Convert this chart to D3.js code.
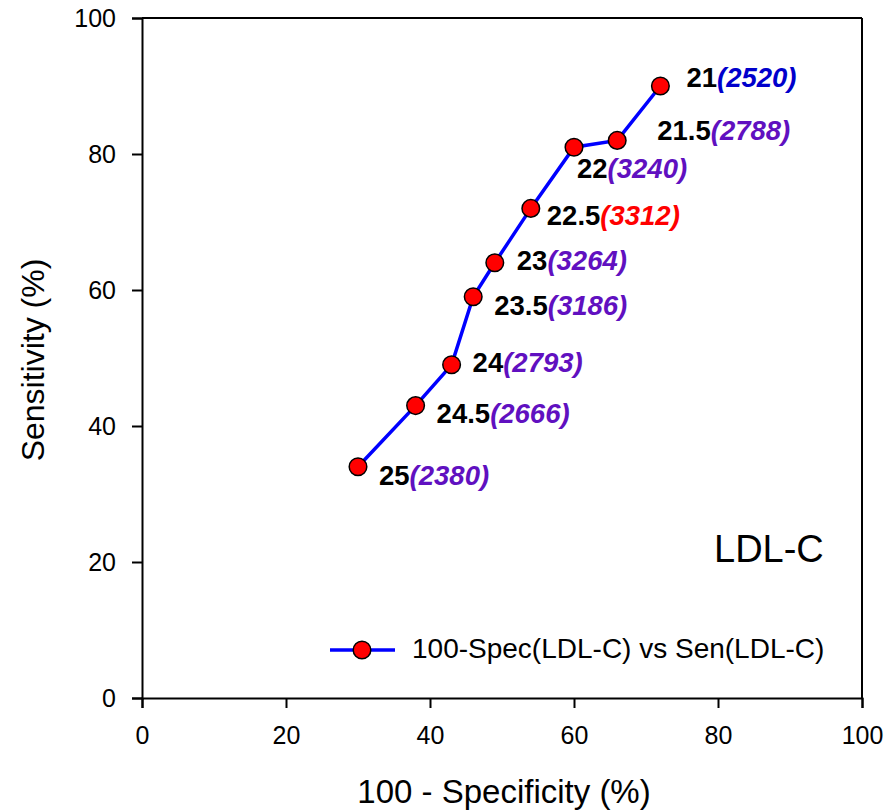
<!DOCTYPE html>
<html><head><meta charset="utf-8">
<script src="https://cdn.jsdelivr.net/npm/d3@7"></script>
<style>body{margin:0;background:#fff}text{font-family:"Liberation Sans",Arial,sans-serif}</style>
</head><body><svg id="c" width="890" height="811"></svg>
<script>
const specX = [30, 38, 43, 46, 49, 54, 60, 66, 72];
const sensY = [34, 43, 49, 59, 64, 72, 81, 82, 90];
const cutoffs = ["25", "24.5", "24", "23.5", "23", "22.5", "22", "21.5", "21"];
const counts = ["2380", "2666", "2793", "3186", "3264", "3312", "3240", "2788", "2520"];
const countColors = ["#6010C0", "#6010C0", "#6010C0", "#6010C0", "#6010C0", "#FF0000", "#6010C0", "#6010C0", "#0000CC"];
const labelOffsets = [[21,18],[21,17],[21,7],[21,18],[22,7],[16,17],[3,31],[40,0],[26,1]];
const xTicks = [0, 20, 40, 60, 80, 100];
const yTicks = [0, 20, 40, 60, 80, 100];

const svg = d3.select("#c");
const x = d3.scaleLinear().domain([0,100]).range([142,862]);
const y = d3.scaleLinear().domain([0,100]).range([698,18]);

// frame
svg.append("line").attr("x1",142).attr("x2",862).attr("y1",18).attr("y2",18).attr("stroke","#000").attr("stroke-width",2);
svg.append("line").attr("x1",862).attr("x2",862).attr("y1",18).attr("y2",698).attr("stroke","#000").attr("stroke-width",2);

const xa = svg.append("g").attr("transform","translate(0,698)")
  .call(d3.axisBottom(x).tickValues(xTicks).tickSize(10).tickPadding(18).tickFormat(d3.format("d")));
const ya = svg.append("g").attr("transform","translate(142,0)")
  .call(d3.axisLeft(y).tickValues(yTicks).tickSize(10).tickPadding(16).tickFormat(d3.format("d")));
[xa,ya].forEach(a=>{
  a.select(".domain").attr("stroke","#000").attr("stroke-width",2);
  a.selectAll(".tick line").attr("stroke","#000").attr("stroke-width",2);
  a.selectAll(".tick text").attr("font-size",25).attr("fill","#000").style("font-family","Liberation Sans, Arial, sans-serif");
});

svg.append("text").attr("x",504).attr("y",803).attr("text-anchor","middle").attr("font-size",33).text("100 - Specificity (%)");
svg.append("text").attr("transform","translate(44,360) rotate(-90)").attr("text-anchor","middle").attr("font-size",32).text("Sensitivity (%)");

const pts = specX.map((v,i)=>({x:v,y:sensY[i],i}));
svg.append("path").datum(pts)
  .attr("d", d3.line().x(d=>x(d.x)).y(d=>y(d.y)))
  .attr("fill","none").attr("stroke","#0000FF").attr("stroke-width",3.5);
svg.selectAll("circle.pt").data(pts).join("circle").attr("class","pt")
  .attr("cx",d=>x(d.x)).attr("cy",d=>y(d.y)).attr("r",8.8)
  .attr("fill","#FF0000").attr("stroke","#000").attr("stroke-width",1.5);

const lab = svg.selectAll("text.lab").data(pts).join("text").attr("class","lab")
  .attr("x",d=>x(d.x)+labelOffsets[d.i][0]).attr("y",d=>y(d.y)+labelOffsets[d.i][1])
  .attr("font-size",27.5).attr("font-weight","bold");
lab.append("tspan").attr("fill","#000").text(d=>cutoffs[d.i]);
lab.append("tspan").attr("fill",d=>countColors[d.i]).attr("font-style","italic").text(d=>"("+counts[d.i]+")");

svg.append("text").attr("x",714).attr("y",562).attr("font-size",38).text("LDL-C");

// legend
svg.append("line").attr("x1",330).attr("x2",395).attr("y1",650).attr("y2",650).attr("stroke","#0000FF").attr("stroke-width",3.5);
svg.append("circle").attr("cx",362).attr("cy",650).attr("r",8.8).attr("fill","#FF0000").attr("stroke","#000").attr("stroke-width",1.5);
svg.append("text").attr("x",412).attr("y",658).attr("font-size",28).text("100-Spec(LDL-C) vs Sen(LDL-C)");
</script></body></html>
